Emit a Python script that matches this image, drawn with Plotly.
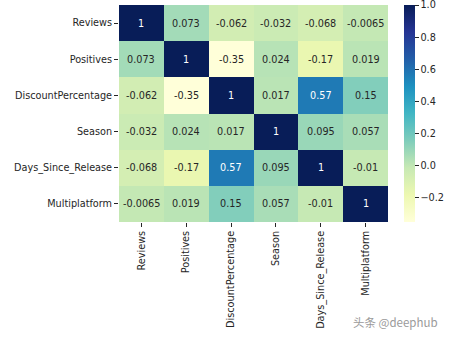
import plotly.graph_objects as go

labels = ["Reviews", "Positives", "DiscountPercentage", "Season", "Days_Since_Release", "Multiplatform"]
corr = [
    [1, 0.073, -0.062, -0.032, -0.068, -0.0065],
    [0.073, 1, -0.35, 0.024, -0.17, 0.019],
    [-0.062, -0.35, 1, 0.017, 0.57, 0.15],
    [-0.032, 0.024, 0.017, 1, 0.095, 0.057],
    [-0.068, -0.17, 0.57, 0.095, 1, -0.01],
    [-0.0065, 0.019, 0.15, 0.057, -0.01, 1],
]
cb_ticks = [-0.2, 0.0, 0.2, 0.4, 0.6, 0.8, 1.0]
cb_ticktext = ["\u22120.2", "0.0", "0.2", "0.4", "0.6", "0.8", "1.0"]

ylgnbu = ["#ffffd9", "#edf8b1", "#c7e9b4", "#7fcdbb", "#41b6c4",
          "#1d91c0", "#225ea8", "#253494", "#081d58"]
colorscale = [[i / (len(ylgnbu) - 1), c] for i, c in enumerate(ylgnbu)]
zmin, zmax = -0.35, 1.0005
FS = 9.7
TXT = "#262626"

def fmt(v):
    return format(v, ".2g")

fig = go.Figure(go.Heatmap(
    z=corr, x=labels, y=labels, colorscale=colorscale, zmin=zmin, zmax=zmax,
    colorbar=dict(thickness=11, len=1.0, lenmode="fraction", x=1.06, xanchor="left",
                  xpad=0, ypad=0, ticklabeloverflow="allow",
                  y=0.5, yanchor="middle", outlinewidth=0,
                  tickvals=cb_ticks, ticktext=cb_ticktext, ticks="outside", ticklen=4,
                  tickcolor=TXT, tickfont=dict(family="DejaVu Sans", size=FS, color=TXT)),
))

annots = []
for i, row in enumerate(corr):
    for j, v in enumerate(row):
        frac = (v - zmin) / (zmax - zmin)
        col = "white" if frac > 0.6 else TXT
        annots.append(dict(x=labels[j], y=labels[i], text=fmt(v), showarrow=False,
                           font=dict(family="DejaVu Sans", size=FS, color=col)))
annots.append(dict(xref="paper", yref="paper", x=1.193, y=-0.46, xanchor="right", yanchor="middle",
                   text="头条 @deephub", showarrow=False,
                   font=dict(family="Noto Sans CJK SC", size=11.5, color="#9a9a9a")))

fig.update_layout(
    width=450, height=338,
    margin=dict(l=119, r=62, t=5, b=116, autoexpand=False),
    paper_bgcolor="white", plot_bgcolor="white",
    annotations=annots,
    font=dict(family="DejaVu Sans", size=FS, color=TXT),
)
fig.update_xaxes(tickangle=-90, ticks="outside", ticklen=4, tickcolor=TXT, automargin=False,
                 showgrid=False, zeroline=False, showline=False,
                 tickfont=dict(family="DejaVu Sans", size=FS, color=TXT))
fig.update_yaxes(autorange="reversed", ticks="outside", ticklen=4, tickcolor=TXT, automargin=False,
                 showgrid=False, zeroline=False, showline=False,
                 tickfont=dict(family="DejaVu Sans", size=FS, color=TXT))

fig.write_html("out.html")
